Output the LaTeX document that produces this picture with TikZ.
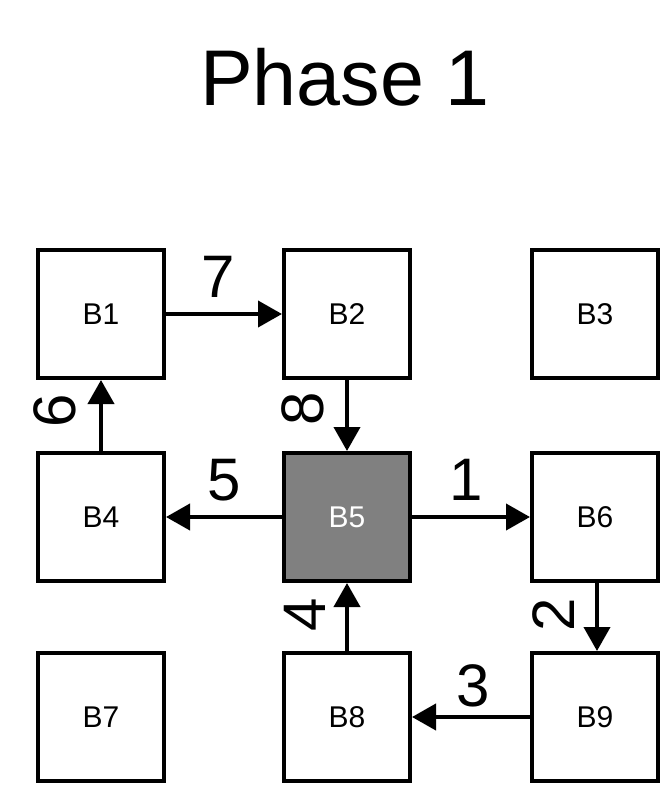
\documentclass[tikz,border=0pt]{standalone}
\usepackage{fontspec}
\setmainfont{Liberation Sans}
\usetikzlibrary{arrows.meta}
\begin{document}
\begin{tikzpicture}[x=1pt,y=-1pt,
  blk/.style={draw=black,line width=4pt,minimum width=126pt,minimum height=128pt,inner sep=0pt,fill=white,font=\fontsize{30}{34}\selectfont},
  hot/.style={blk,fill={rgb,255:red,128;green,128;blue,128},text=white},
  flow/.style={line width=4pt,-{Triangle[length=24pt,width=26pt]}},
  num/.style={inner sep=0pt,font=\fontsize{60}{62}\selectfont},
  vnum/.style={num,rotate=90}]
\useasboundingbox (0,0) rectangle (663,788);
\node[inner sep=0pt,font=\fontsize{79}{82}\selectfont] (title) at (345,77) {Phase 1};
\node[blk] (b1) at (101,314) {B1};
\node[blk] (b2) at (347,314) {B2};
\node[blk] (b3) at (595,314) {B3};
\node[blk] (b4) at (101,517) {B4};
\node[hot] (b5) at (347,517) {B5};
\node[blk] (b6) at (595,517) {B6};
\node[blk] (b7) at (101,717) {B7};
\node[blk] (b8) at (347,717) {B8};
\node[blk] (b9) at (595,717) {B9};
\draw[flow] (b5.east) -- (b6.west);
\draw[flow] (b6.south -| 597,0) -- (b9.north -| 597,0);
\draw[flow] (b9.west) -- (b8.east);
\draw[flow] (b8.north) -- (b5.south);
\draw[flow] (b5.west) -- (b4.east);
\draw[flow] (b4.north) -- (b1.south);
\draw[flow] (b1.east) -- (b2.west);
\draw[flow] (b2.south) -- (b5.north);
\node[num] (l1) at (466,480) {1};
\node[vnum] (l2) at (554,615) {2};
\node[num] (l3) at (473,686) {3};
\node[vnum] (l4) at (305,615) {4};
\node[num] (l5) at (224,480) {5};
\node[vnum] (l6) at (55,411) {6};
\node[num] (l7) at (218,277) {7};
\node[vnum] (l8) at (303,409) {8};
\end{tikzpicture}
\end{document}
